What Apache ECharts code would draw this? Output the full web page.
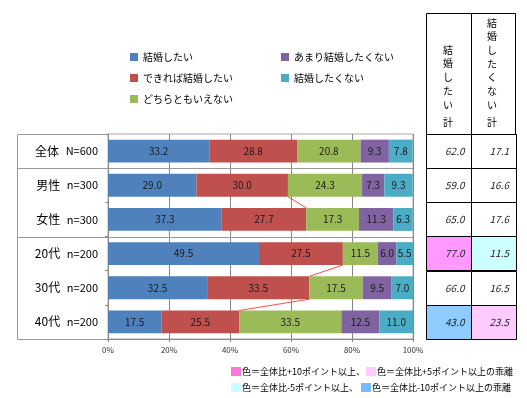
<!DOCTYPE html>
<html>
<head>
<meta charset="utf-8">
<script src="https://cdn.jsdelivr.net/npm/echarts@6/dist/echarts.min.js"></script>
<style>
html, body { margin: 0; padding: 0; background: #fff; }
#main { width: 527px; height: 398px; }
</style>
</head>
<body>
<div id="main"></div>
<script>
// データ
var groups = ['全体', '男性', '女性', '20代', '30代', '40代'];
var counts = ['N=600', 'n=300', 'n=300', 'n=200', 'n=200', 'n=200'];
var seriesNames = ['結婚したい', 'できれば結婚したい', 'どちらともいえない', 'あまり結婚したくない', '結婚したくない'];
var want = [33.2, 29.0, 37.3, 49.5, 32.5, 17.5];
var ratherWant = [28.8, 30.0, 27.7, 27.5, 33.5, 25.5];
var neither = [20.8, 24.3, 17.3, 11.5, 17.5, 33.5];
var ratherNot = [9.3, 7.3, 11.3, 6.0, 9.5, 12.5];
var notWant = [7.8, 9.3, 6.3, 5.5, 7.0, 11.0];
var wantTotal = [62.0, 59.0, 65.0, 77.0, 66.0, 43.0];
var notTotal = [17.1, 16.6, 17.6, 11.5, 16.5, 23.5];
var xTicks = [0, 20, 40, 60, 80, 100];
var links = [[1, 2], [3, 4], [4, 5]];   // 赤い補助線 (上の行 → 下の行)
var groupStarts = [1, 3];               // グループ区切り

(function () {
    var myChart = echarts.init(document.getElementById('main'));
    var font = '"Noto Sans CJK JP", "Noto Sans", sans-serif';
    var colors = ['#4F81BD', '#C0504D', '#9BBB59', '#8064A2', '#4BACC6'];
    var gTop = 134, gLeft = 108, gW = 305, gH = 205;
    var band = gH / groups.length;
    var barRatio = 0.67;
    var values = [want, ratherWant, neither, ratherNot, notWant];

    function cellColor(col, v) {
        var base = col === 0 ? wantTotal[0] : notTotal[0];
        var d = v - base;
        if (d >= 10) return '#FF99FF';
        if (d >= 5) return '#FFCCFF';
        if (d <= -10) return '#8FCBFF';
        if (d <= -5) return '#CCFFFF';
        return '#fff';
    }

    var series = values.map(function (arr, i) {
        return {
            name: seriesNames[i],
            type: 'bar',
            stack: 'all',
            barWidth: (barRatio * 100) + '%',
            itemStyle: { color: colors[i] },
            label: {
                show: true,
                position: 'inside',
                color: '#1a1a1a',
                fontSize: 10,
                fontFamily: font,
                formatter: function (p) { return p.value.toFixed(1); }
            },
            data: arr
        };
    });

    // 補助線
    series.push({
        type: 'custom',
        z: 5,
        silent: true,
        encode: { x: [0, 2], y: [1, 3] },
        renderItem: function (params, api) {
            var p1 = api.coord([api.value(0), api.value(1)]);
            var p2 = api.coord([api.value(2), api.value(3)]);
            var half = api.size([0, 1])[1] * barRatio / 2;
            return {
                type: 'line',
                shape: { x1: p1[0], y1: p1[1] + half, x2: p2[0], y2: p2[1] - half },
                style: { stroke: '#FF4D4D', lineWidth: 1 }
            };
        },
        data: links.map(function (l) {
            return [want[l[0]] + ratherWant[l[0]], l[0], want[l[1]] + ratherWant[l[1]], l[1]];
        })
    });

    // 右の表
    var tableData = [];
    for (var r = 0; r < groups.length; r++) {
        tableData.push([0, r, wantTotal[r]]);
        tableData.push([1, r, notTotal[r]]);
    }
    series.push({
        type: 'custom',
        xAxisIndex: 1,
        yAxisIndex: 1,
        silent: true,
        encode: { x: 0, y: 1 },
        renderItem: function (params, api) {
            var c = api.coord([api.value(0), api.value(1)]);
            var s = api.size([1, 1]);
            var v = api.value(2);
            return {
                type: 'group',
                children: [
                    {
                        type: 'rect',
                        shape: { x: Math.round(c[0] - s[0] / 2) + 0.5, y: Math.round(c[1] - s[1] / 2) + 0.5, width: Math.round(s[0]), height: Math.round(s[1]) },
                        style: { fill: cellColor(api.value(0), v), stroke: '#000', lineWidth: 1 }
                    },
                    {
                        type: 'text',
                        style: {
                            text: v.toFixed(1), x: c[0] + s[0] / 2 - 6, y: c[1],
                            align: 'right', verticalAlign: 'middle',
                            fontStyle: 'italic', fontSize: 10, fontFamily: font, fill: '#222'
                        }
                    }
                ]
            };
        },
        data: tableData
    });

    var graphic = [
        // 見出し
        { type: 'rect', shape: { x: 426.5, y: 13.5, width: 89, height: 121 }, style: { fill: '#fff', stroke: '#000', lineWidth: 1 } },
        { type: 'line', shape: { x1: 471.5, y1: 13.5, x2: 471.5, y2: 134.5 }, style: { stroke: '#000', lineWidth: 1 } },
        { type: 'text', style: { text: '結\n婚\nし\nた\nい', x: 448, y: 43, align: 'center', fontSize: 10, lineHeight: 13.8, fontFamily: font, fill: '#000' } },
        { type: 'text', style: { text: '結\n婚\nし\nた\nく\nな\nい', x: 492, y: 16, align: 'center', fontSize: 10, lineHeight: 13.7, fontFamily: font, fill: '#000' } },
        { type: 'text', style: { text: '計', x: 448, y: 117, align: 'center', fontSize: 10, fontFamily: font, fill: '#000' } },
        { type: 'text', style: { text: '計', x: 492, y: 117, align: 'center', fontSize: 10, fontFamily: font, fill: '#000' } },
        // 左のラベル枠
        { type: 'polyline', shape: { points: [[gLeft, gTop + 0.5], [17.5, gTop + 0.5], [17.5, gTop + gH + 0.5], [gLeft, gTop + gH + 0.5]] }, style: { fill: 'none', stroke: '#999', lineWidth: 1 } },
        // 凡例 (色)
        { type: 'rect', shape: { x: 231, y: 367, width: 10, height: 9 }, style: { fill: '#FF77DD' } },
        { type: 'text', style: { text: '色＝全体比+10ポイント以上、', x: 242, y: 371.5, verticalAlign: 'middle', fontSize: 9, fontFamily: font, fill: '#000' } },
        { type: 'rect', shape: { x: 366, y: 367, width: 10, height: 9 }, style: { fill: '#FFCCFF' } },
        { type: 'text', style: { text: '色＝全体比+5ポイント以上の乖離', x: 377, y: 371.5, verticalAlign: 'middle', fontSize: 9, fontFamily: font, fill: '#000' } },
        { type: 'rect', shape: { x: 231, y: 383, width: 10, height: 9 }, style: { fill: '#CCFFFF' } },
        { type: 'text', style: { text: '色＝全体比-5ポイント以上、', x: 242, y: 387.5, verticalAlign: 'middle', fontSize: 9, fontFamily: font, fill: '#000' } },
        { type: 'rect', shape: { x: 361, y: 383, width: 10, height: 9 }, style: { fill: '#77BBFF' } },
        { type: 'text', style: { text: '色＝全体比-10ポイント以上の乖離', x: 372, y: 387.5, verticalAlign: 'middle', fontSize: 9, fontFamily: font, fill: '#000' } }
    ];
    groupStarts.forEach(function (k) {
        var y = Math.round(gTop + band * k) + 0.5;
        graphic.push({ type: 'line', z: 10, shape: { x1: 17.5, y1: y, x2: gLeft + gW, y2: y }, style: { stroke: '#999', lineWidth: 1 } });
    });

    var option = {
        animation: false,
        backgroundColor: '#fff',
        textStyle: { fontFamily: font },
        legend: [
            {
                left: 130, top: 51, orient: 'vertical', padding: 0, itemGap: 9,
                itemWidth: 8, itemHeight: 8, icon: 'rect',
                textStyle: { fontSize: 10, color: '#000', lineHeight: 12 },
                data: seriesNames.slice(0, 3)
            },
            {
                left: 281, top: 51, orient: 'vertical', padding: 0, itemGap: 9,
                itemWidth: 8, itemHeight: 8, icon: 'rect',
                textStyle: { fontSize: 10, color: '#000', lineHeight: 12 },
                data: seriesNames.slice(3)
            }
        ],
        grid: [
            { left: gLeft, top: gTop, width: gW, height: gH, show: true, borderColor: '#aaa', borderWidth: 1 },
            { left: 426, top: gTop, width: 89, height: gH }
        ],
        xAxis: [
            {
                type: 'value', min: xTicks[0], max: xTicks[xTicks.length - 1], interval: 20,
                axisLine: { show: true, lineStyle: { color: '#888' } },
                axisTick: { show: true, length: 3, lineStyle: { color: '#888' } },
                splitLine: { show: true, lineStyle: { color: '#888' } },
                axisLabel: { formatter: '{value}%', fontSize: 8, color: '#333', margin: 7 }
            },
            { type: 'category', gridIndex: 1, data: ['結婚したい計', '結婚したくない計'], show: false }
        ],
        yAxis: [
            {
                type: 'category', inverse: true,
                data: groups.map(function (g, i) { return g + '\u3000' + counts[i]; }),
                axisLine: { show: true, lineStyle: { color: '#888' } },
                axisTick: { show: true, length: 3, lineStyle: { color: '#888' } },
                axisLabel: {
                    margin: 10,
                    formatter: function (v) {
                        var p = v.split('\u3000');
                        return '{a|' + p[0] + '} {b|' + p[1] + '}';
                    },
                    rich: {
                        a: { fontSize: 12, color: '#000', fontFamily: font },
                        b: { fontSize: 11, color: '#000', fontFamily: font, padding: [0, 0, 0, 4] }
                    }
                }
            },
            { type: 'category', gridIndex: 1, inverse: true, data: groups, show: false }
        ],
        graphic: graphic,
        series: series
    };

    myChart.setOption(option);

    window.addEventListener('resize', function () {
        myChart.resize();
    });
})();
</script>
</body>
</html>
